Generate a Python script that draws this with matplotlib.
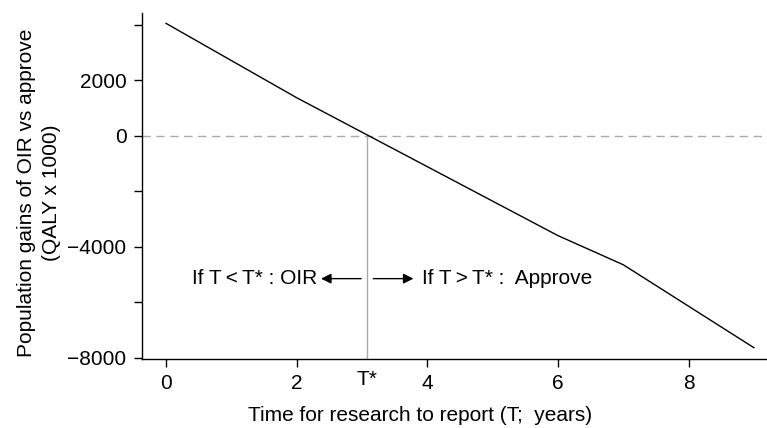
import matplotlib
matplotlib.use('Agg')
import matplotlib.pyplot as plt
from matplotlib.ticker import FixedLocator, FixedFormatter

plt.rcParams['font.family'] = ['Liberation Sans', 'DejaVu Sans']

# data
years = [0, 2, 6, 7, 9]
gains = [4050, 1370, -3600, -4650, -7640]
t_star = 3.08

x_ticks = [0, 2, 4, 6, 8]
y_ticks = [4000, 2000, 0, -2000, -4000, -6000, -8000]
y_labels = ['', '2000', '0', '', '\u22124000', '', '\u22128000']

fs = 15

fig = plt.figure(figsize=(7.67, 4.28), dpi=100)
ax = fig.add_axes([0.185, 0.161, 0.815, 0.809])

ax.plot(years, gains, color='black', lw=1.0, zorder=3)
ax.axhline(0, color='#aaaaaa', lw=1.0, ls=(0, (6, 4)), zorder=1)
ax.plot([t_star, t_star], [-8050, 0], color='#aaaaaa', lw=1.0, zorder=1)

ax.set_xlim(-0.37, 9.2)
ax.set_ylim(-8050, 4430)

ax.spines['top'].set_visible(False)
ax.spines['right'].set_visible(False)
ax.spines['left'].set_linewidth(1.0)
ax.spines['bottom'].set_linewidth(1.0)

ax.xaxis.set_major_locator(FixedLocator(x_ticks))
ax.yaxis.set_major_locator(FixedLocator(y_ticks))
ax.yaxis.set_major_formatter(FixedFormatter(y_labels))
ax.tick_params(axis='both', direction='out', length=6, width=1.0, labelsize=fs, pad=5)

ax.text(t_star, -8450, 'T*', ha='center', va='top', fontsize=fs)

ax.set_xlabel('Time for research to report (T;  years)', fontsize=fs)
ax.xaxis.set_label_coords(0.445, -0.135)
ax.set_ylabel('Population gains of OIR vs approve\n(QALY x 1000)', fontsize=fs,
              linespacing=1.4)
ax.yaxis.set_label_coords(-0.13, 0.48)

# arrows on either side of T*
y_arr = -5150
ax.annotate('', xy=(2.33, y_arr), xytext=(3.03, y_arr),
            arrowprops=dict(arrowstyle='-|>', color='black', lw=1.0, mutation_scale=15))
ax.annotate('', xy=(3.83, y_arr), xytext=(3.13, y_arr),
            arrowprops=dict(arrowstyle='-|>', color='black', lw=1.0, mutation_scale=15))
ax.text(2.32, y_arr, 'If T\u2009<\u2009T* : OIR', ha='right', va='center', fontsize=fs)
ax.text(3.92, y_arr, 'If T\u2009>\u2009T* :  Approve', ha='left', va='center', fontsize=fs)

fig.savefig('out.png', dpi=100)
